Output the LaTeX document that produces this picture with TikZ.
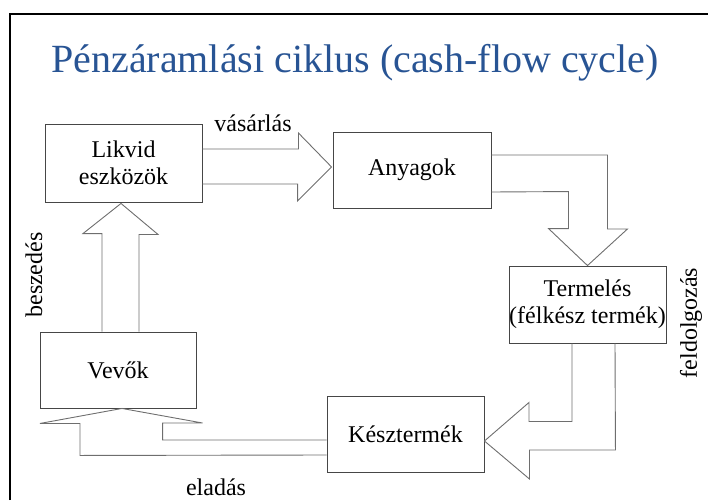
\documentclass[tikz,border=0pt]{standalone}
\usepackage{fontspec}
\setmainfont{Liberation Serif}
\usetikzlibrary{calc}
\definecolor{titleblue}{RGB}{40,84,148}
\definecolor{boxline}{RGB}{70,70,70}
\definecolor{arrowline}{RGB}{110,110,110}
\tikzset{
  stagebox/.style={draw=boxline, line width=0.9pt, fill=white, align=center,
    font=\fontsize{24}{27}\selectfont, inner sep=0pt},
  blockarrow/.style={draw=arrowline, line width=0.9pt, line join=miter},
  flowlabel/.style={font=\fontsize{24}{26}\selectfont, inner sep=0pt}
}
\begin{document}
\begin{tikzpicture}[x=1pt,y=-1pt]
\useasboundingbox (0,0) rectangle (708,500);
% page frame
\draw[line width=1.4pt] (10,500) -- (10,14) -- (708,14);
% title
\node[text=titleblue, font=\fontsize{40}{42}\selectfont, anchor=base] (title) at (355,73)
  {Pénzáramlási ciklus (cash-flow cycle)};
% stages
\node[stagebox, minimum width=157pt, minimum height=78pt] (lik) at (123.5,163) {Likvid\\eszközök};
\node[stagebox, minimum width=158pt, minimum height=76pt] (any) at (412,170) {Anyagok};
\node[stagebox, minimum width=157pt, minimum height=77pt] (term) at (587.5,304.5) {Termelés\\(félkész termék)};
\node[stagebox, minimum width=157pt, minimum height=76pt] (kesz) at (405.5,434) {Késztermék};
\node[stagebox, minimum width=156pt, minimum height=76pt] (vev) at (118,370) {Vevők};
% block arrows between stages
\draw[blockarrow] ($(lik.east)+(0,-14)$) -- ++(96,0) -- ++(0,-16)
  -- ($(any.west)+(-1,-3)$) -- ++(-34,34) -- ++(0,-17) -- ($(lik.east)+(0,21)$);
\draw[blockarrow] ($(any.east)+(0,-15)$) -- ++(116,0) -- ++(0,74) -- ++(20,0)
  -- (term.north) -- ++(-39,-37) -- ++(20,0) -- ++(0,-37) -- ($(any.east)+(0,22)$);
\draw[blockarrow] ($(term.south)+(-15.5,0)$) -- ++(0,78) -- ++(-43,0) -- ++(0,-19)
  -- ($(kesz.east)+(0,7)$) -- ++(45,38) -- ++(0,-29) -- ++(86,0) -- ($(term.south)+(27.5,0)$);
\draw[blockarrow] ($(kesz.west)+(0,6)$) -- ++(-164,0) -- ++(0,-17) -- ++(40,0)
  -- ($(vev.south)+(4,0)$) -- ++(-82,15) -- ++(40,0) -- ++(0,32) -- ($(kesz.west)+(0,21)$);
\draw[blockarrow] ($(vev.north)+(-16,0)$) -- ++(0,-98) -- ++(-19,0)
  -- ($(lik.south)+(-2.5,1)$) -- ++(37,31) -- ++(-19,0) -- ($(vev.north)+(21,0)$);
% flow labels
\node[flowlabel] (buy) at (253,123) {vásárlás};
\node[flowlabel, rotate=90] (proc) at (691,323) {feldolgozás};
\node[flowlabel, rotate=90] (coll) at (34,275) {beszedés};
\node[flowlabel] (sell) at (216,487) {eladás};
\end{tikzpicture}
\end{document}
